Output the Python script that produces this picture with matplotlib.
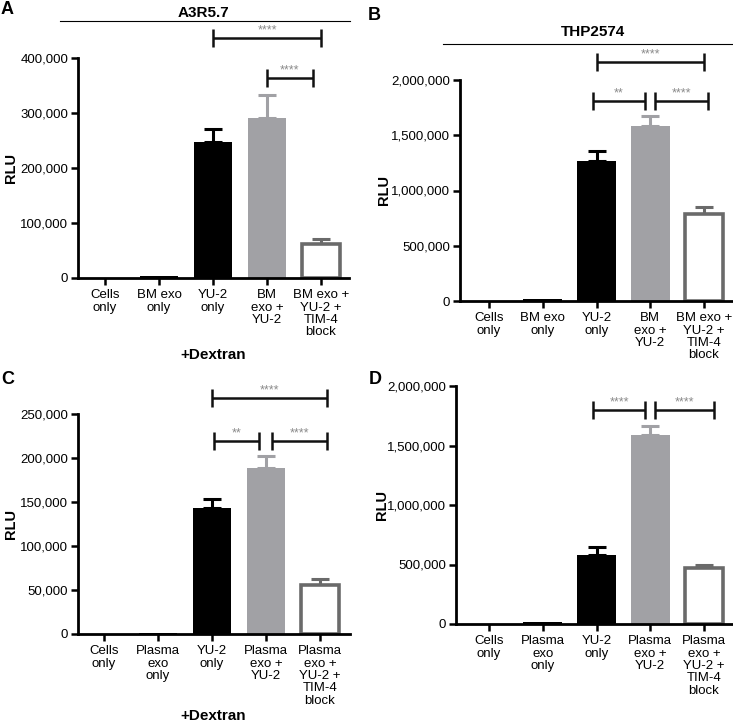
import matplotlib
matplotlib.use("Agg")
import matplotlib.pyplot as plt
from matplotlib.ticker import FuncFormatter

plt.rcParams['font.family'] = ['Liberation Sans', 'DejaVu Sans']

W, H = 733, 724

# ---------------- data ----------------
cats_bm = ["Cells\nonly", "BM exo\nonly", "YU-2\nonly", "BM\nexo +\nYU-2", "BM exo +\nYU-2 +\nTIM-4\nblock"]
cats_pl = ["Cells\nonly", "Plasma\nexo\nonly", "YU-2\nonly", "Plasma\nexo +\nYU-2", "Plasma\nexo +\nYU-2 +\nTIM-4\nblock"]

a_vals = [0, 4000, 248000, 291000, 62000]
a_err = [0, 0, 23000, 42000, 9000]
b_vals = [0, 20000, 1268000, 1582000, 790000]
b_err = [0, 0, 88000, 90000, 60000]
c_vals = [0, 1000, 143000, 189000, 56000]
c_err = [0, 0, 10000, 13000, 6000]
d_vals = [0, 15000, 578000, 1588000, 470000]
d_err = [0, 0, 70000, 80000, 25000]

a_yticks = [0, 100000, 200000, 300000, 400000]
b_yticks = [0, 500000, 1000000, 1500000, 2000000]
c_yticks = [0, 50000, 100000, 150000, 200000, 250000]
d_yticks = [0, 500000, 1000000, 1500000, 2000000]

# comparisons: (i, j, label)
a_comp = [(2, 4, "****"), (3, 4, "****")]
b_comp = [(2, 4, "****"), (2, 3, "**"), (3, 4, "****")]
c_comp = [(2, 4, "****"), (2, 3, "**"), (3, 4, "****")]
d_comp = [(2, 3, "****"), (3, 4, "****")]

# ---------------- style ----------------
BLACK = "#000000"
GRAY = "#a1a1a5"
DGRAY = "#6a6a6a"
colors = [BLACK, BLACK, BLACK, GRAY, "white"]
edges = [BLACK, BLACK, BLACK, GRAY, DGRAY]
ecolors = [BLACK, BLACK, BLACK, GRAY, DGRAY]

fig = plt.figure(figsize=(W / 100, H / 100), dpi=100)


def fx(x):
    return x / W


def fy(y):
    return 1 - y / H


def make_ax(left, right, top, bottom, x0tick, x4tick):
    ax = fig.add_axes([fx(left), fy(bottom), fx(right) - fx(left), fy(top) - fy(bottom)])
    sp = (x4tick - x0tick) / 4.0
    ax.set_xlim((left - x0tick) / sp, (right - x0tick) / sp)
    return ax


def draw(ax, cats, vals, errs, yticks, comps, levels_px, spans):
    x = list(range(len(cats)))
    ymax = yticks[-1]
    for i in x:
        if vals[i] > 0:
            ax.bar(i, vals[i], width=0.72, color=colors[i], edgecolor=edges[i],
                   linewidth=2.6 if i == 4 else 0, zorder=2)
            if errs[i] > 0:
                ax.errorbar(i, vals[i], yerr=[[0], [errs[i]]], fmt="none",
                            ecolor=ecolors[i], elinewidth=2.2, capsize=6.5,
                            capthick=2.2, zorder=1)
    ax.set_ylim(0, ymax)
    ax.set_yticks(yticks)
    ax.yaxis.set_major_formatter(FuncFormatter(lambda v, p: f"{int(v):,}"))
    ax.set_xticks(x)
    ax.set_xticklabels(cats, fontsize=9.5, linespacing=1.05)
    ax.tick_params(axis="y", labelsize=9.5, width=1.8, length=5, pad=2)
    ax.tick_params(axis="x", width=1.8, length=5, pad=3)
    for s in ["top", "right"]:
        ax.spines[s].set_visible(False)
    for s in ["left", "bottom"]:
        ax.spines[s].set_linewidth(2.0)
    # brackets
    bb = ax.get_position()
    hpx = bb.height * H
    for (i, j, lab), lev, (d1, d2) in zip(comps, levels_px, spans):
        y = ymax * (1 + lev / hpx)
        xa, xb = i + d1, j + d2
        ax.plot([xa, xb], [y, y], color="#111111", lw=1.8, clip_on=False,
                solid_capstyle="butt")
        ax.plot([xa, xb], [y, y], ls="none", marker="|", ms=13, mew=1.8,
                color="#111111", clip_on=False)
        ax.text((xa + xb) / 2, y + ymax * 1.5 / hpx, lab, ha="center", va="bottom",
                fontsize=9, color="#8a8a8a", clip_on=False)


# Panel A
axA = make_ax(78, 349, 58, 278, 105, 321)
draw(axA, cats_bm, a_vals, a_err, a_yticks, a_comp, [20, -20],
     [(0, 0), (0, -0.15)])

# Panel B
axB = make_ax(460, 733, 80, 301, 489, 704)
draw(axB, cats_bm, b_vals, b_err, b_yticks, b_comp, [18, -21, -21],
     [(0, 0), (-0.07, -0.09), (0.09, 0.07)])

# Panel C
axC = make_ax(78, 350, 414, 634, 104, 320)
draw(axC, cats_pl, c_vals, c_err, c_yticks, c_comp, [16, -27, -27],
     [(0, 0.13), (0.04, -0.13), (0.11, 0.13)])

# Panel D
axD = make_ax(456, 733, 386, 624, 489, 704)
draw(axD, cats_pl, d_vals, d_err, d_yticks, d_comp, [-24, -24],
     [(-0.07, -0.09), (0.09, 0.19)])

# y labels
for (xp, yp) in [(11, 168), (384, 190), (11, 524), (382, 505)]:
    fig.text(fx(xp), fy(yp), "RLU", rotation=90, ha="center", va="center",
             fontsize=10.5, fontweight="bold")

# panel letters
for lab, (xp, yp) in zip("ABCD", [(7, 10), (374, 15), (8, 380), (375, 380)]):
    fig.text(fx(xp), fy(yp), lab, ha="center", va="center", fontsize=13, fontweight="bold")

# headers
fig.text(fx(203), fy(13), "A3R5.7", ha="center", va="center", fontsize=11, fontweight="bold")
fig.add_artist(plt.Line2D([fx(60), fx(350)], [fy(21), fy(21)], color="black", lw=0.8))
fig.text(fx(593), fy(32), "THP2574", ha="center", va="center", fontsize=11, fontweight="bold")
fig.add_artist(plt.Line2D([fx(443), fx(733)], [fy(44), fy(44)], color="black", lw=0.8))

# +Dextran
fig.text(fx(213), fy(355), "+Dextran", ha="center", va="center", fontsize=11, fontweight="bold")
fig.text(fx(213), fy(716), "+Dextran", ha="center", va="center", fontsize=11, fontweight="bold")

fig.savefig("out.png", dpi=100)
